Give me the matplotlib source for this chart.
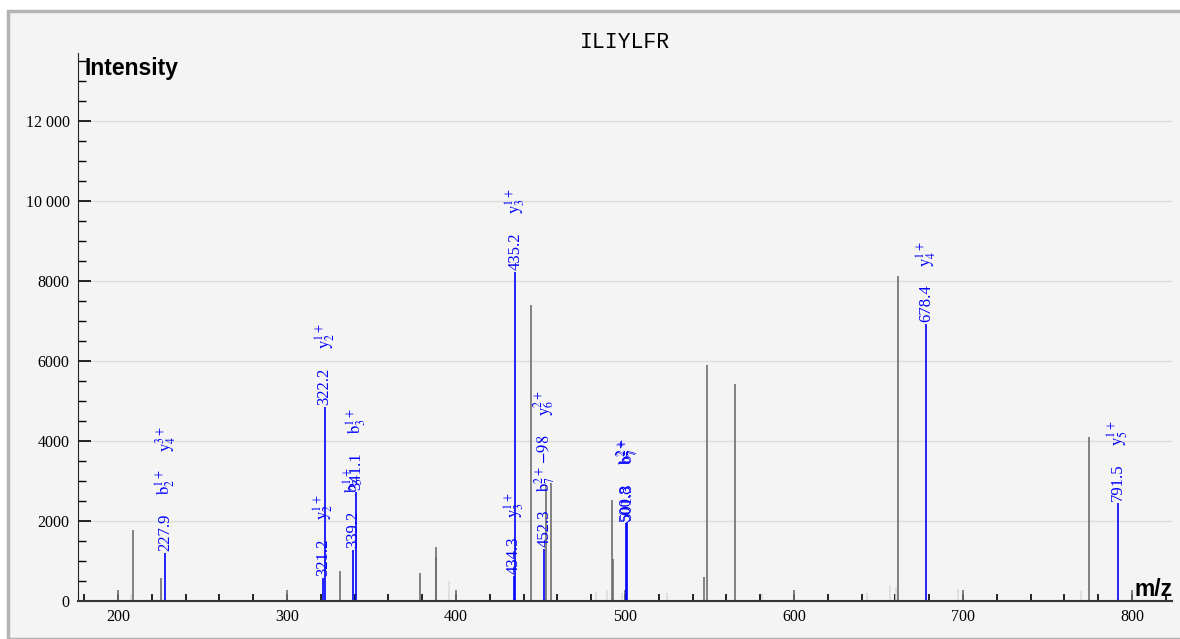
import matplotlib
matplotlib.use("Agg")
import matplotlib.pyplot as plt
from matplotlib.patches import Rectangle
from matplotlib.ticker import MultipleLocator, FuncFormatter

# unannotated peaks (m/z, intensity)
peak_mz = [200.1, 208.9, 225.6, 299.9, 331.2, 378.7, 387.9, 388.1, 399.9,
           444.2, 453.3, 456.5, 492.1, 492.7, 499.8, 546.9, 548.3, 565.3,
           600.0, 661.3, 700.0, 774.6, 800.0]
peak_int = [275, 1775, 583, 275, 758, 708, 1360, 1092, 275,
            7400, 2900, 2940, 2525, 1042, 275, 608, 5900, 5417,
            275, 8125, 275, 4100, 275]

# low quality / noise peaks
noise_mz = [207.9, 396.0, 482.8, 489.3, 498.0, 525.0, 580.9, 643.0, 656.8,
            660.2, 697.2, 769.6]
noise_int = [180, 500, 230, 275, 200, 200, 200, 200, 400,
             342, 290, 250]

# annotated fragment ions
ion_mz = [227.9, 321.2, 322.2, 339.2, 341.1, 434.3, 435.2, 452.3,
          500.8, 501.3, 678.4, 791.5]
ion_int = [1208, 583, 4858, 1275, 2733, 625, 8225, 1292,
           1960, 1983, 6917, 2442]
ion_labels = [
    [r"$\mathrm{b}_2^{1+}$", r"$\mathrm{y}_4^{3+}$"],
    [r"$\mathrm{y}_2^{1+}$"],
    [r"$\mathrm{y}_2^{1+}$"],
    [r"$\mathrm{b}_3^{1+}$"],
    [r"$\mathrm{b}_3^{1+}$"],
    [r"$\mathrm{y}_3^{1+}$"],
    [r"$\mathrm{y}_3^{1+}$"],
    [r"$\mathrm{b}_7^{2+}\,\mathrm{-98}$", r"$\mathrm{y}_6^{2+}$"],
    [r"$\mathrm{b}_7^{2+}$"],
    [r"$\mathrm{b}_7^{2+}$"],
    [r"$\mathrm{y}_4^{1+}$"],
    [r"$\mathrm{y}_5^{1+}$"],
]

peptide = "ILIYLFR"

plt.rcParams["mathtext.fontset"] = "stix"
plt.rcParams["font.family"] = ["Liberation Serif", "DejaVu Serif"]

W, H = 1180, 639
fig = plt.figure(figsize=(W / 100, H / 100), dpi=100)
fig.patch.set_facecolor("white")

# grey frame round the chart
fig.patches.append(Rectangle((8 / W, 0), 1.0, 1 - 11 / H, transform=fig.transFigure,
                             facecolor="#f4f4f4", edgecolor="#b4b4b4", linewidth=2.5,
                             zorder=-5))

ax = fig.add_axes([78 / W, 38 / H, (1172 - 78) / W, (601 - 53) / H])
ax.set_facecolor("none")
ax.set_xlim(176.3, 823.7)
ax.set_ylim(0, 13700)

for s in ["top", "right"]:
    ax.spines[s].set_visible(False)
ax.spines["left"].set_color("#222222")
ax.spines["bottom"].set_color("#333333")
ax.spines["bottom"].set_linewidth(1.5)

ax.yaxis.set_major_locator(MultipleLocator(2000))
ax.yaxis.set_minor_locator(MultipleLocator(500))
ax.xaxis.set_major_locator(MultipleLocator(100))
ax.xaxis.set_minor_locator(MultipleLocator(20))
ax.yaxis.set_major_formatter(FuncFormatter(
    lambda v, p: f"{int(v) // 1000} 000" if v >= 10000 else f"{int(v)}"))
ax.tick_params(axis="y", which="major", direction="in", length=9, width=1.2,
               labelsize=11.5, pad=6)
ax.tick_params(axis="y", which="minor", direction="in", length=6, width=1)
ax.tick_params(axis="x", which="both", direction="in", length=5, width=1.2,
               labelsize=11.5, pad=6)
ax.grid(axis="y", which="major", color="#dddddd", linewidth=1)
ax.set_axisbelow(True)

ax.vlines(noise_mz, 0, noise_int, color="#dcdcdc", linewidth=1.2)
ax.vlines(peak_mz, 0, peak_int, color="#6e6e6e", linewidth=1.2)
ax.vlines(ion_mz, 0, ion_int, color="blue", linewidth=1.2)

# stacked, rotated labels above each annotated peak
fig.canvas.draw()
renderer = fig.canvas.get_renderer()
for mz, inten, labs in zip(ion_mz, ion_int, ion_labels):
    offset = 2
    for t in [f"{mz:.1f}"] + labs:
        txt = ax.annotate(t, xy=(mz, inten), xytext=(0, offset),
                          textcoords="offset pixels", rotation=90,
                          ha="center", va="bottom", color="blue", fontsize=12)
        bb = txt.get_window_extent(renderer)
        offset += bb.height + 18

fig.text(625 / W, 1 - 43 / H, peptide, ha="center", va="center",
         family="Liberation Mono", fontsize=15.5)
fig.text(85 / W, 1 - 69 / H, "Intensity", ha="left", va="center",
         family="Liberation Sans", fontweight="bold", fontsize=16.5)
fig.text(1173 / W, 1 - 590 / H, "m/z", ha="right", va="center",
         family="Liberation Sans", fontweight="bold", fontsize=16.5)

fig.savefig("out.png", dpi=100)
